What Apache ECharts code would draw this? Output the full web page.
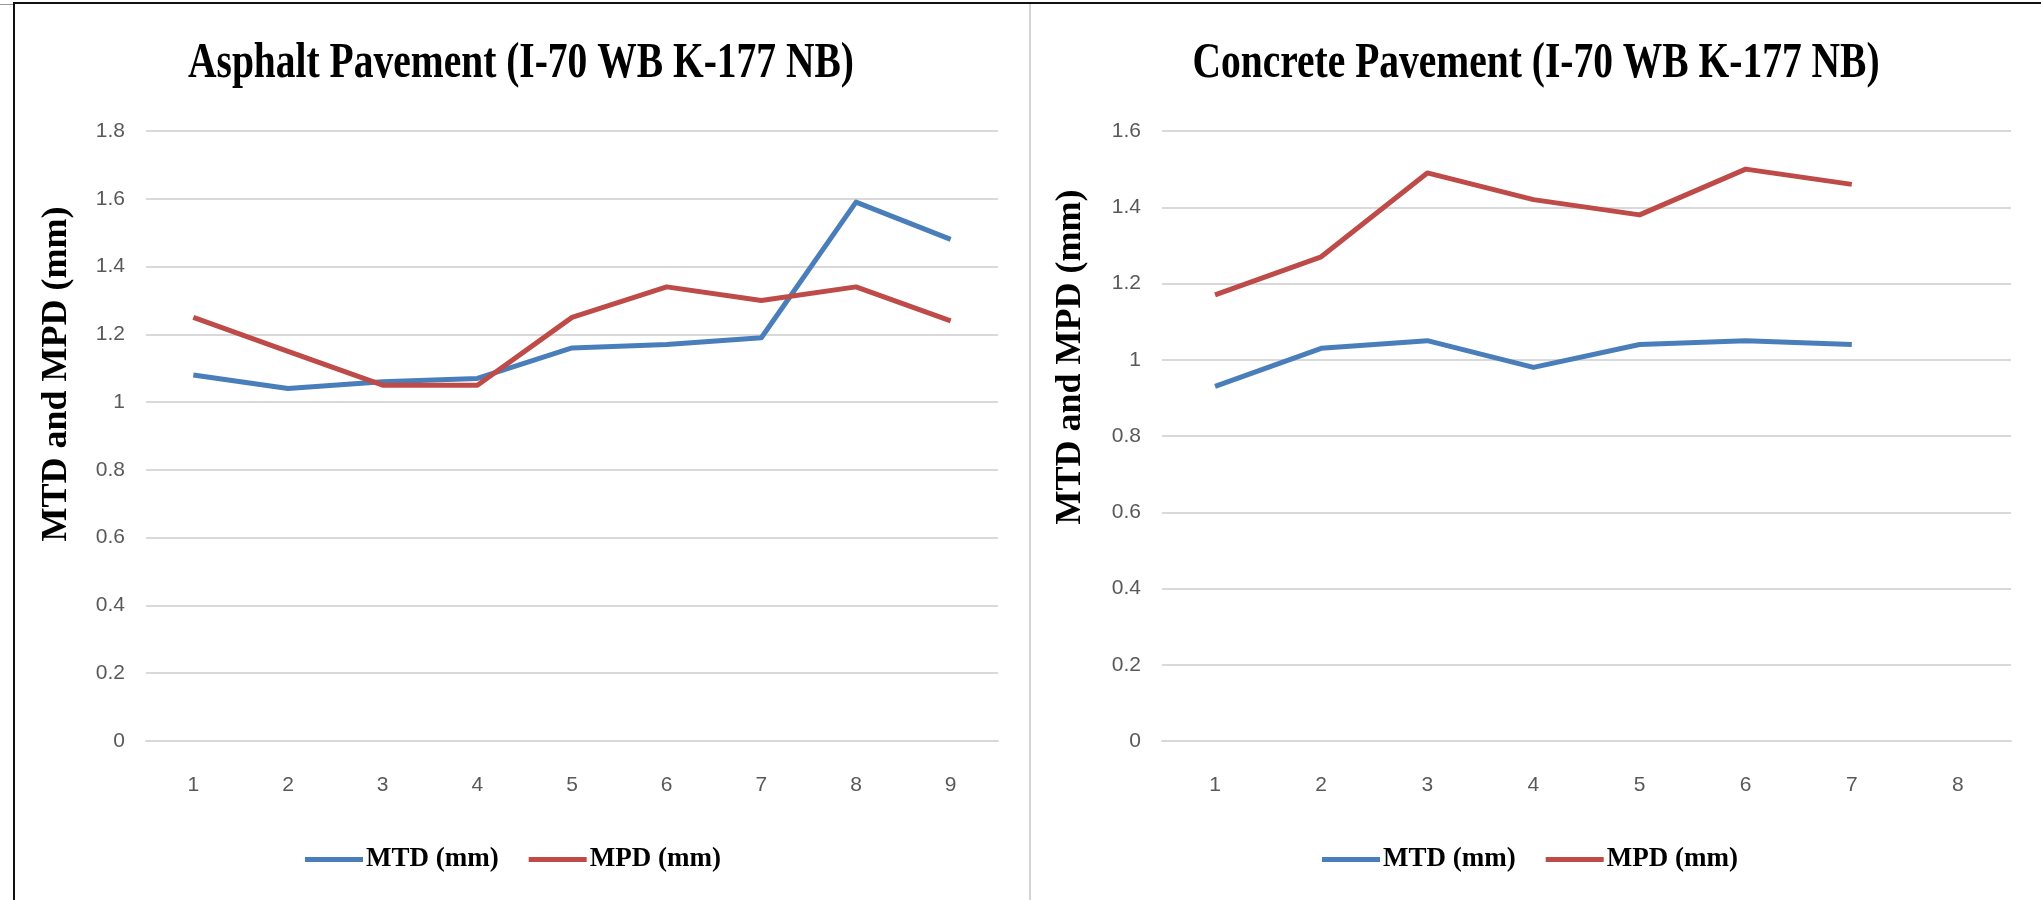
<!DOCTYPE html>
<html>
<head>
<meta charset="utf-8">
<script src="https://cdn.jsdelivr.net/npm/echarts@6/dist/echarts.min.js"></script>
<style>
  html, body { margin: 0; padding: 0; background: #fff; }
  #chart { width: 2041px; height: 900px; }
</style>
</head>
<body>
<div id="chart"></div>
<script>
// ---- Data ----
const titleAsphalt = 'Asphalt Pavement (I-70 WB K-177 NB)';
const titleConcrete = 'Concrete Pavement (I-70 WB K-177 NB)';
const yAxisTitle = 'MTD and MPD (mm)';
const seriesNames = ['MTD (mm)', 'MPD (mm)'];

const categoriesAsphalt = ['1', '2', '3', '4', '5', '6', '7', '8', '9'];
const mtdAsphalt = [1.08, 1.04, 1.06, 1.07, 1.16, 1.17, 1.19, 1.59, 1.48];
const mpdAsphalt = [1.25, 1.15, 1.05, 1.05, 1.25, 1.34, 1.30, 1.34, 1.24];

const categoriesConcrete = ['1', '2', '3', '4', '5', '6', '7', '8'];
const mtdConcrete = [0.93, 1.03, 1.05, 0.98, 1.04, 1.05, 1.04];
const mpdConcrete = [1.17, 1.27, 1.49, 1.42, 1.38, 1.50, 1.46];

const yMaxAsphalt = 1.8;
const yMaxConcrete = 1.6;
const yInterval = 0.2;

// ---- Styles ----
const BLUE = '#4A7EBB';
const RED = '#BE4B48';
const GRID_COLOR = '#d9d9d9';
const LABEL_COLOR = '#595959';
const SERIF = '"Liberation Serif", "Times New Roman", serif';
const SANS = '"Liberation Sans", Arial, sans-serif';

const chart = echarts.init(document.getElementById('chart'), null, { renderer: 'canvas' });

function xAxisFor(gridIndex, cats) {
  return {
    type: 'category', gridIndex, data: cats, boundaryGap: true,
    axisLine: { show: true, lineStyle: { color: GRID_COLOR, width: 2 } },
    axisTick: { show: false },
    axisLabel: { color: LABEL_COLOR, fontFamily: SANS, fontSize: 21, margin: 34 },
    splitLine: { show: false }
  };
}
function yAxisFor(gridIndex, max) {
  return {
    type: 'value', gridIndex, min: 0, max, interval: yInterval,
    axisLine: { show: false }, axisTick: { show: false },
    axisLabel: { color: LABEL_COLOR, fontFamily: SANS, fontSize: 21, margin: 21 },
    splitLine: { show: true, lineStyle: { color: GRID_COLOR, width: 2 } }
  };
}
function lineSeries(name, color, data, idx) {
  return {
    name, type: 'line', data, xAxisIndex: idx, yAxisIndex: idx,
    showSymbol: false, symbol: 'none', smooth: false,
    lineStyle: { color, width: 5, join: 'round', cap: 'butt' },
    itemStyle: { color },
    emphasis: { disabled: true }
  };
}
function legendAt(left) {
  return {
    data: seriesNames, left, top: 841, orient: 'horizontal',
    icon: 'rect', itemWidth: 58, itemHeight: 5, itemGap: 30,
    textStyle: { fontFamily: SERIF, fontSize: 27, fontWeight: 'bold', color: '#000', padding: [0, 0, 0, -2] }
  };
}

const option = {
  backgroundColor: '#ffffff',
  animation: false,
  grid: [
    { left: 146, top: 131, width: 852, height: 610 },
    { left: 1162, top: 131, width: 849, height: 610 }
  ],
  xAxis: [xAxisFor(0, categoriesAsphalt), xAxisFor(1, categoriesConcrete)],
  yAxis: [yAxisFor(0, yMaxAsphalt), yAxisFor(1, yMaxConcrete)],
  legend: [legendAt(300), legendAt(1317)],
  series: [
    lineSeries(seriesNames[0], BLUE, mtdAsphalt, 0),
    lineSeries(seriesNames[1], RED, mpdAsphalt, 0),
    lineSeries(seriesNames[0], BLUE, mtdConcrete, 1),
    lineSeries(seriesNames[1], RED, mpdConcrete, 1)
  ],
  graphic: [
    // frame lines
    { type: 'rect', silent: true, shape: { x: 13, y: 2, width: 2028, height: 2 }, style: { fill: '#111' } },
    { type: 'rect', silent: true, shape: { x: 13, y: 2, width: 2, height: 898 }, style: { fill: '#111' } },
    { type: 'rect', silent: true, shape: { x: 0, y: 4, width: 13, height: 1 }, style: { fill: '#999' } },
    { type: 'rect', silent: true, shape: { x: 1029, y: 4, width: 2, height: 896 }, style: { fill: '#d4d4d4' } },
    // titles
    { type: 'text', silent: true, x: 521, y: 64, scaleX: 0.79,
      style: { text: titleAsphalt, font: 'bold 50px ' + SERIF, fill: '#000', textAlign: 'center', textVerticalAlign: 'middle' } },
    { type: 'text', silent: true, x: 1536, y: 64, scaleX: 0.79,
      style: { text: titleConcrete, font: 'bold 50px ' + SERIF, fill: '#000', textAlign: 'center', textVerticalAlign: 'middle' } },
    // y-axis titles
    { type: 'text', silent: true, x: 57, y: 374, rotation: Math.PI / 2,
      style: { text: yAxisTitle, font: 'bold 36px ' + SERIF, fill: '#000', textAlign: 'center', textVerticalAlign: 'middle' } },
    { type: 'text', silent: true, x: 1071, y: 357, rotation: Math.PI / 2,
      style: { text: yAxisTitle, font: 'bold 36px ' + SERIF, fill: '#000', textAlign: 'center', textVerticalAlign: 'middle' } }
  ]
};
chart.setOption(option);
</script>
</body>
</html>
